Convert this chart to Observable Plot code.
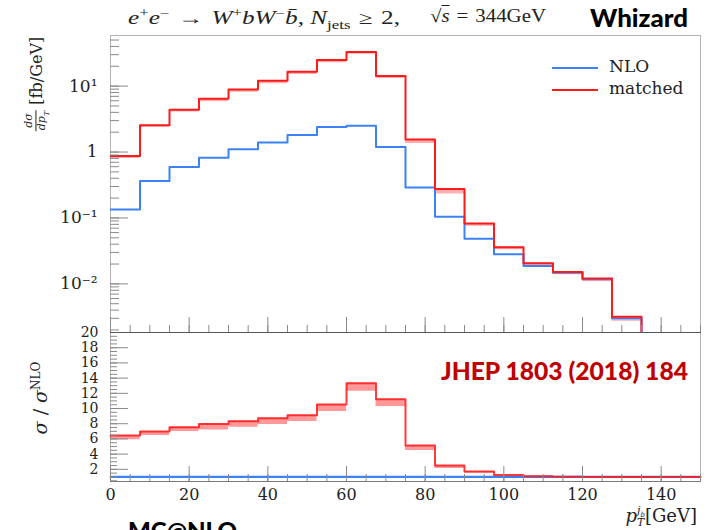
<!DOCTYPE html>
<html><head><meta charset="utf-8">
<script src="https://cdn.jsdelivr.net/npm/d3@7"></script>
<script src="https://cdn.jsdelivr.net/npm/@observablehq/plot@0.6"></script>
<style>
html,body{margin:0;padding:0;background:#fff;}
#wrap{position:relative;width:711px;height:530px;overflow:hidden;font-family:"DejaVu Serif",serif;color:#222;}
.abs{position:absolute;white-space:nowrap;}
.it{font-style:italic;}
.sans{font-family:Lato,"Open Sans",sans-serif;font-weight:900;}
.rot{transform-origin:center center;transform:translate(-50%,-50%) rotate(-90deg);}
.frac{display:inline-block;vertical-align:middle;text-align:center;font-size:11px;line-height:1.05;font-style:italic;}
.frac span{display:block;padding:0 1px;}
.frac span+span{border-top:1px solid #222;}
.fit{transform-origin:0 0;}
.op{margin:0 6px;}
</style></head><body><div id="wrap">
<div id="top" class="abs" style="left:0;top:0"></div>
<div id="bot" class="abs" style="left:0;top:310px"></div>

<div class="abs fit" data-w="272" style="left:128px;top:6px;font-family:'Liberation Serif',serif;font-size:18px;">
 <span class="it">e</span><sup style="font-size:12px">+</sup><span class="it">e</span><sup style="font-size:12px">&minus;</sup><span class="op">&rarr;</span><span class="it">W</span><sup style="font-size:12px">+</sup><span class="it">bW</span><sup style="font-size:12px">&minus;</sup><span class="it">b&#772;</span>, <span class="it">N</span><sub style="font-size:12px">jets</sub><span class="op">&ge;</span>2,
</div>
<div class="abs fit" data-w="116" style="left:430px;top:6px;font-family:'Liberation Serif',serif;font-size:18px;">
 &radic;<span class="it" style="text-decoration:overline">s</span><span class="op">=</span>344GeV
</div>
<div class="abs sans fit" data-w="98" style="left:590px;top:3px;font-size:24px;color:#000;">Whizard</div>

<div class="abs rot" style="left:37px;top:84px;font-size:16px;">
 <span class="frac"><span>d&sigma;</span><span>dp<sub style="font-size:8px">T</sub></span></span> [fb/GeV]
</div>
<div class="abs rot" style="left:40px;top:398px;font-size:19px;">
 <span class="it">&sigma;</span> / <span class="it">&sigma;</span><sup style="font-size:12px">NLO</sup>
</div>
<div class="abs" style="right:14px;top:505px;font-size:18px;line-height:22px;">
 <span class="it">p</span><span style="display:inline-block;vertical-align:middle;line-height:0.9;font-size:11px;"><span style="display:block" class="it">j<sub style="font-size:7px">b</sub></span><span style="display:block" class="it">T</span></span>[GeV]
</div>

<div id="legend" class="abs" style="left:551px;top:55px;font-size:17px;line-height:22px;">
 <div><svg width="48" height="10" style="vertical-align:middle;margin-right:10px"><line x1="1" x2="47" y1="5" y2="5" stroke="#3b82f6" stroke-width="2"/></svg>NLO</div>
 <div><svg width="48" height="10" style="vertical-align:middle;margin-right:10px"><line x1="1" x2="47" y1="5" y2="5" stroke="#ff1a1a" stroke-width="2"/></svg>matched</div>
</div>

<div class="abs sans fit" data-w="247" style="left:441px;top:356px;font-size:24px;color:#c00000;">JHEP 1803 (2018) 184</div>
<div class="abs sans fit" data-w="109" style="left:128px;top:516px;font-size:23px;color:#000;">MC@NLO</div>
</div>
<script>
// ---- data ----
const binEdges = [0,7.5,15,22.5,30,37.5,45,52.5,60,67.5,75,82.5,90,97.5,105,112.5,120,127.5,135,142.5,150];
const matched    = [0.87,2.56,4.39,6.44,8.9,12.1,16.5,24.8,33.0,14.2,1.55,0.274,0.0826,0.0361,0.0205,0.0151,0.0121,0.00318,0,0];
const matchedLow = [0.80,2.37,4.06,5.80,8.06,10.9,15.0,22.6,30.4,13.0,1.35,0.23,0.075,0.033,0.019,0.0138,0.0108,0.0027,0,0];
const nlo        = [0.134,0.364,0.593,0.822,1.10,1.39,1.81,2.39,2.50,1.19,0.291,0.104,0.0485,0.0282,0.0187,0.0148,0.0118,0.0030,0,0];
const ratioMatched    = [6.45,6.97,7.54,7.98,8.33,8.73,9.12,10.53,13.33,11.23,5.13,2.5,1.7,1.25,1.1,1.02,1.0,1.0,1.0,1.0];
const ratioMatchedLow = [5.9,6.45,6.97,7.19,7.54,7.9,8.29,9.6,12.28,10.26,4.47,2.1,1.5,1.15,1.0,0.95,0.92,0.9,1.0,1.0];
const ratioNLO     = [1,1,1,1,1,1,1,1,1,1,1,1,1,1,1,1,1,1,1,1];
const ratioNLOLow  = [0.85,0.85,0.85,0.85,0.85,0.85,0.85,0.85,0.85,0.85,0.85,0.85,0.85,0.85,0.85,0.85,0.85,0.85,0.85,0.85];
const ratioNLOHigh = [1.2,1.2,1.2,1.2,1.2,1.2,1.2,1.2,1.2,1.2,1.2,1.2,1.2,1.2,1.2,1.2,1.2,1.2,1.2,1.2];
const xTicks = [0,20,40,60,80,100,120,140];
const yTicksTop = [0.01,0.1,1,10];
const yTickLabelsTop = ["10\u207B\u00B2","10\u207B\u00B9","1","10\u00B9"];
const yTicksRatio = [2,4,6,8,10,12,14,16,18,20];

const RED = "#ff1a1a", BLUE = "#3b82f6";
const topDomain = [0.00183, 58.6];
const FLOOR = topDomain[0] / 10;

function steps(vals, lo, hi) {
  const n = vals.length;
  const pts = vals.map((v, i) => ({x: binEdges[i], v, lo: lo ? lo[i] : null, hi: hi ? hi[i] : null}));
  pts.push({x: binEdges[n], v: vals[n-1], lo: lo ? lo[n-1] : null, hi: hi ? hi[n-1] : null});
  return pts;
}
const pos = v => v > 0 ? v : FLOOR;
const mS = steps(matched, matchedLow);
const nS = steps(nlo);
const rM = steps(ratioMatched, ratioMatchedLow);
const rN = steps(ratioNLO, ratioNLOLow, ratioNLOHigh);
const topLabel = new Map(yTicksTop.map((t, i) => [t, yTickLabelsTop[i]]));

const common = {width: 711, marginLeft: 110, marginRight: 11,
  style: {fontFamily: "DejaVu Serif, serif", fontSize: "16px", color: "#222", overflow: "visible", background: "transparent"}};

const topPlot = Plot.plot({
  ...common, height: 332, marginTop: 35, marginBottom: 0,
  x: {domain: [0, 150]},
  y: {type: "log", domain: topDomain},
  marks: [
    Plot.frame({stroke: "#b4b4b4"}),
    Plot.areaY(mS, {x: "x", y1: d => pos(d.lo), y2: d => pos(d.v), curve: "step-after", fill: RED, fillOpacity: 0.35, clip: true}),
    Plot.line(nS, {x: "x", y: d => pos(d.v), curve: "step-after", stroke: BLUE, strokeWidth: 2, clip: true}),
    Plot.line(mS, {x: "x", y: d => pos(d.v), curve: "step-after", stroke: RED, strokeWidth: 2, clip: true}),
    Plot.axisY({ticks: 40, tickSize: 9, dx: 9, fill: "none", stroke: "#8a8a8a", label: null}),
    Plot.axisY(yTicksTop, {tickSize: 18, dx: 18, fill: "none", stroke: "#8a8a8a", label: null}),
    Plot.axisY(yTicksTop, {tickSize: 0, tickPadding: 13, tickFormat: d => topLabel.get(d), stroke: "none", label: null, fontSize: 17}),
    Plot.axisX({interval: 5, tickSize: 7, dy: -7, fill: "none", stroke: "#8a8a8a", label: null}),
    Plot.axisX(xTicks, {tickSize: 15, dy: -15, fill: "none", stroke: "#8a8a8a", label: null}),
    Plot.frame({anchor: "bottom", stroke: "#555"})
  ]
});
document.getElementById("top").append(topPlot);

const botPlot = Plot.plot({
  ...common, height: 220, marginTop: 22, marginBottom: 49,
  x: {domain: [0, 150]},
  y: {domain: [0.4, 20]},
  marks: [
    Plot.frame({stroke: "#b4b4b4"}),
    Plot.areaY(rN, {x: "x", y1: "lo", y2: "hi", curve: "step-after", fill: "#a8c9ff", fillOpacity: 0.6}),
    Plot.line(rN, {x: "x", y: "v", curve: "step-after", stroke: BLUE, strokeWidth: 2}),
    Plot.areaY(rM, {x: "x", y1: "lo", y2: "v", curve: "step-after", fill: RED, fillOpacity: 0.45}),
    Plot.line(rM, {x: "x", y: "v", curve: "step-after", stroke: RED, strokeWidth: 2, strokeOpacity: 0.85}),
    Plot.axisY({interval: 0.5, tickSize: 7, dx: 7, fill: "none", stroke: "#8a8a8a", label: null}),
    Plot.axisY(yTicksRatio, {tickSize: 18, dx: 18, fill: "none", stroke: "#8a8a8a", label: null}),
    Plot.axisY(yTicksRatio, {tickSize: 0, tickPadding: 12, stroke: "none", label: null, fontSize: 14}),
    Plot.axisX({interval: 5, tickSize: 7, dy: -7, fill: "none", stroke: "#8a8a8a", label: null}),
    Plot.axisX(xTicks, {tickSize: 15, dy: -15, fill: "none", stroke: "#8a8a8a", label: null}),
    Plot.axisX(xTicks, {tickSize: 0, tickPadding: 7, stroke: "none", label: null}),
    Plot.frame({anchor: "top", stroke: "#555"}),
    Plot.frame({anchor: "bottom", stroke: "#7a7a7a"})
  ]
});
document.getElementById("bot").append(botPlot);

// fit selected text blocks to their widths in the reference
document.querySelectorAll(".fit").forEach(el => {
  const w = el.getBoundingClientRect().width;
  const target = +el.dataset.w;
  if (w > 0 && target) el.style.transform = `scaleX(${target / w})`;
});
</script>
</body></html>
